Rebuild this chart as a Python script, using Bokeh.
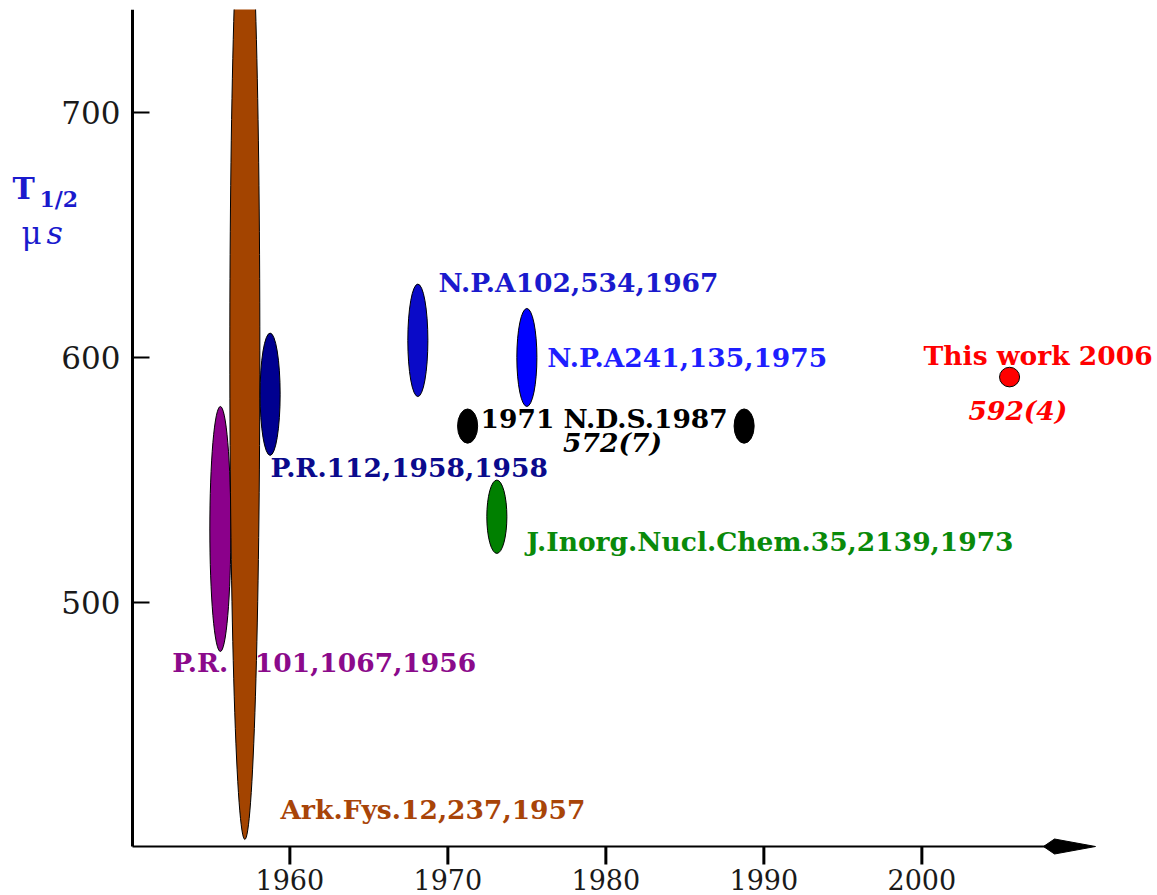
import math
from bokeh.plotting import figure
from bokeh.models import Range1d, ColumnDataSource
from bokeh.core.properties import value
from bokeh.embed import file_html
from bokeh.resources import INLINE

# Half-life measurements (microseconds) of the isomer, one ellipse per measurement
years = [1955.6, 1957.15, 1958.75, 1968.1, 1971.25, 1988.75, 1973.1, 1975.0, 2005.55]
t_half = [530, 603, 585, 607, 572, 572, 535, 600, 592]
t_err = [50, 200, 25, 23, 7, 7, 15, 20, 4]
fill = ["#8B008B", "#A34400", "#000090", "#0A0AC8", "#000000", "#000000",
        "#008000", "#0000FF", "#FF0000"]
# horizontal extent of each ellipse, in years
spans = [1.33, 1.9, 1.27, 1.27, 1.27, 1.27, 1.27, 1.27, 1.27]

# reference labels
ref_text = ["N.P.A102,534,1967", "N.P.A241,135,1975", "1971 N.D.S.1987", "572(7)",
            "P.R.112,1958,1958", "J.Inorg.Nucl.Chem.35,2139,1973",
            "P.R.\u2003101,1067,1956", "Ark.Fys.12,237,1957", "This work 2006", "592(4)"]
ref_x = [1969.41, 1976.29, 1972.07, 1980.42, 1958.78, 1974.98, 1952.56, 1959.41, 2000.11, 2006.08]
ref_y = [630.5, 600.1, 575.0, 565.2, 555.0, 524.8, 475.4, 415.5, 600.7, 578.2]
ref_color = ["#1A1ACD", "#1E1EFF", "#000000", "#000000", "#0A0A8C", "#0A8A0A",
             "#8B0A8B", "#A84408", "#FF0000", "#FF0000"]
ref_style = ["bold", "bold", "bold", "bold italic", "bold", "bold", "bold", "bold",
             "bold", "bold italic"]
ref_align = ["left", "left", "left", "center", "left", "left", "left", "left", "left", "center"]

x_ticks = [1960, 1970, 1980, 1990, 2000]
y_ticks = [500, 600, 700]

# axis geometry: origin of the axes and pixel scale of each direction
X0, PX_PER_YEAR = 1950.04, 15.8
Y0, PX_PER_US = 400.4, 2.45
W, H, TOP = 1157, 895, 9
ORIGIN_PX, ORIGIN_PY = 132, 846


def px2x(px):
    return X0 + (px - ORIGIN_PX) / PX_PER_YEAR


def px2y(py):
    return Y0 + (ORIGIN_PY - py) / PX_PER_US


p = figure(width=W, height=H,
           x_range=Range1d(px2x(0), px2x(W)),
           y_range=Range1d(px2y(H), px2y(TOP)),
           output_backend="svg", toolbar_location=None,
           min_border_left=0, min_border_right=0, min_border_bottom=0,
           min_border_top=TOP)
p.axis.visible = False
p.outline_line_color = None
p.xgrid.visible = False
p.ygrid.visible = False
p.background_fill_color = "white"
p.border_fill_color = "white"

serif = value("DejaVu Serif")
tick_color = "#1a1a1a"

# vertical axis: line, inward ticks, labels
p.segment(x0=[X0], y0=[Y0], x1=[X0], y1=[px2y(TOP)], line_width=3, line_color="black")
p.multi_line(xs=[[X0, px2x(149)] for _ in y_ticks], ys=[[t, t] for t in y_ticks],
             line_width=2, line_color="black")
p.text(x=[px2x(120)] * len(y_ticks), y=y_ticks, text=[str(t) for t in y_ticks],
       text_font=serif, text_font_size="31px", text_color=tick_color,
       text_align="right", text_baseline="middle")

# horizontal axis: line with arrow head, labels
p.segment(x0=[X0], y0=[Y0], x1=[px2x(1046)], y1=[Y0], line_width=2, line_color="black")
p.patch(x=[px2x(1043), px2x(1054), px2x(1095), px2x(1054)],
        y=[Y0, Y0 + 7.5 / PX_PER_US, Y0, Y0 - 7.5 / PX_PER_US],
        fill_color="black", line_color="black", line_width=1)
p.text(x=x_ticks, y=[px2y(879)] * len(x_ticks), text=[str(t) for t in x_ticks],
       text_font=serif, text_font_size="27px", text_color=tick_color,
       text_align="center", text_baseline="middle")

# vertical axis title: T_1/2 in microseconds
blue = "#1A1ACD"
p.text(x=[px2x(12)], y=[px2y(188)], text=["T"], text_color=blue, text_font=serif,
       text_font_style="bold", text_font_size="30px", text_baseline="middle")
p.text(x=[px2x(39)], y=[px2y(198)], text=["1/2"], text_color=blue, text_font=serif,
       text_font_style="bold", text_font_size="22px", text_baseline="middle")
p.text(x=[px2x(21)], y=[px2y(232)], text=["\u03bc"], text_color=blue, text_font=serif,
       text_font_size="31px", text_baseline="middle")
p.text(x=[px2x(46)], y=[px2y(232)], text=["s"], text_color=blue, text_font=serif,
       text_font_style="italic", text_font_size="32px", text_baseline="middle")

# reference labels sit underneath the ellipses
labels = ColumnDataSource(dict(x=ref_x, y=ref_y, text=ref_text, color=ref_color,
                               style=ref_style, align=ref_align))
p.text(x="x", y="y", text="text", source=labels, text_color="color",
       text_font=serif, text_font_style="style",
       text_font_size="26.5px", text_align="align", text_baseline="middle")

# measurement ellipses: height spans value +/- error
marks = ColumnDataSource(dict(x=years, y=t_half, w=spans,
                              h=[2 * e for e in t_err], color=fill))
p.ellipse(x="x", y="y", width="w", height="h", source=marks,
          fill_color="color", line_color="black", line_width=1)

# outward ticks of the year axis, as upright dash markers just below the axis
p.scatter(x=x_ticks, y=[px2y(855)] * len(x_ticks), marker="dash", size=18,
          angle=math.pi / 2, line_width=3, line_color="black")

open("out.html", "w").write(file_html(p, INLINE))
